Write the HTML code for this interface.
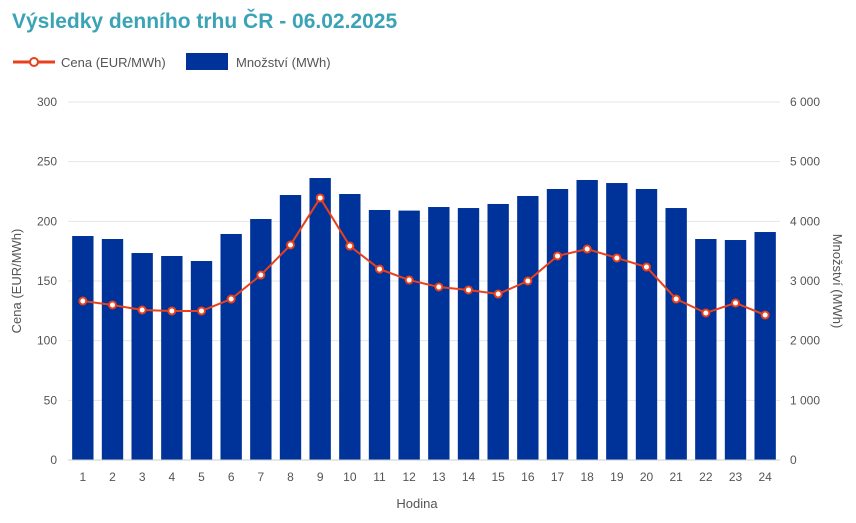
<!DOCTYPE html>
<html><head><meta charset="utf-8"><style>
body{margin:0;background:#fff;font-family:"Liberation Sans",sans-serif;}
svg text{font-family:"Liberation Sans",sans-serif;}
</style></head><body>
<svg id="chart" width="856" height="518">
<text x="12" y="28" font-size="21" font-weight="bold" fill="#3aa3b5">Výsledky denního trhu ČR - 06.02.2025</text>
<g>
<line x1="13" y1="62" x2="55" y2="62" stroke="#e8401c" stroke-width="3"/>
<circle cx="34" cy="62" r="4" fill="#fff" stroke="#e8401c" stroke-width="2"/>
<text x="61" y="67" font-size="13" fill="#555">Cena (EUR/MWh)</text></g>
<g>
<rect x="186" y="53" width="42" height="17" fill="#003399"/>
<text x="236" y="67" font-size="13" fill="#555">Množství (MWh)</text></g>
<g id="grid"></g><g id="bars"></g><g id="line"></g><g id="axes"></g>
<text x="417" y="508" font-size="13" fill="#555" text-anchor="middle">Hodina</text>
<text transform="translate(21,281) rotate(-90)" font-size="13" fill="#555" text-anchor="middle">Cena (EUR/MWh)</text>
<text transform="translate(833,281) rotate(90)" font-size="13" fill="#555" text-anchor="middle">Množství (MWh)</text>
</svg>
<script>
const hours=[1,2,3,4,5,6,7,8,9,10,11,12,13,14,15,16,17,18,19,20,21,22,23,24];
const volume=[3754,3704,3469,3419,3335,3788,4039,4441,4726,4458,4190,4180,4240,4223,4291,4425,4542,4693,4642,4542,4223,3704,3687,3821];
const price=[133.2,129.9,125.7,124.9,124.9,134.9,155,180.2,219.6,179.3,160,150.8,145,142.5,139.1,150,171,176.8,169.3,161.7,134.9,123.2,131.6,121.5];
const leftTicks=[0,50,100,150,200,250,300];
const rightTicks=["0","1 000","2 000","3 000","4 000","5 000","6 000"];
const ns="http://www.w3.org/2000/svg";
const X0=68,X1=780,Y0=460,Y1=102;
const slot=(X1-X0)/hours.length;
const xc=i=>X0+slot*(i+0.5);
const yL=v=>Y0-(v/300)*(Y0-Y1);
const yR=v=>Y0-(v/6000)*(Y0-Y1);
function mk(t,a,p){const e=document.createElementNS(ns,t);for(const k in a)e.setAttribute(k,a[k]);p.appendChild(e);return e;}
const grid=document.getElementById('grid'),bars=document.getElementById('bars'),line=document.getElementById('line'),axes=document.getElementById('axes');
leftTicks.forEach((t,i)=>{
 const y=yL(t);
 const g=mk('line',{x1:X0,x2:X1,y1:y,y2:y,stroke:'#e6e6e6'},grid);
 
 
 const a=mk('text',{x:57,y:y+4,'font-size':12,fill:'#555','text-anchor':'end'},axes);a.textContent=t;
 
 
 const b=mk('text',{x:790,y:y+4,'font-size':12,fill:'#555'},axes);b.textContent=rightTicks[i];
 
 
});
const bw=slot*0.72;
volume.forEach((v,i)=>{
 const r=mk('rect',{x:xc(i)-bw/2,y:yR(v),width:bw,height:Y0-yR(v),fill:'#003399'},bars);
 
 
 const t=mk('text',{x:xc(i),y:481,'font-size':12,fill:'#555','text-anchor':'middle'},axes);t.textContent=hours[i];
 
 
});
const ax=mk('line',{x1:X0,x2:X1,y1:Y0,y2:Y0,stroke:'#ccc'},axes);


const pl=mk('polyline',{points:price.map((p,i)=>xc(i)+','+yL(p)).join(' '),fill:'none',stroke:'#e8401c','stroke-width':2},line);


price.forEach((p,i)=>{
 const c=mk('circle',{cx:xc(i),cy:yL(p),r:3.5,fill:'#fff',stroke:'#e8401c','stroke-width':2},line);
 
 
});
</script>
</body></html>
